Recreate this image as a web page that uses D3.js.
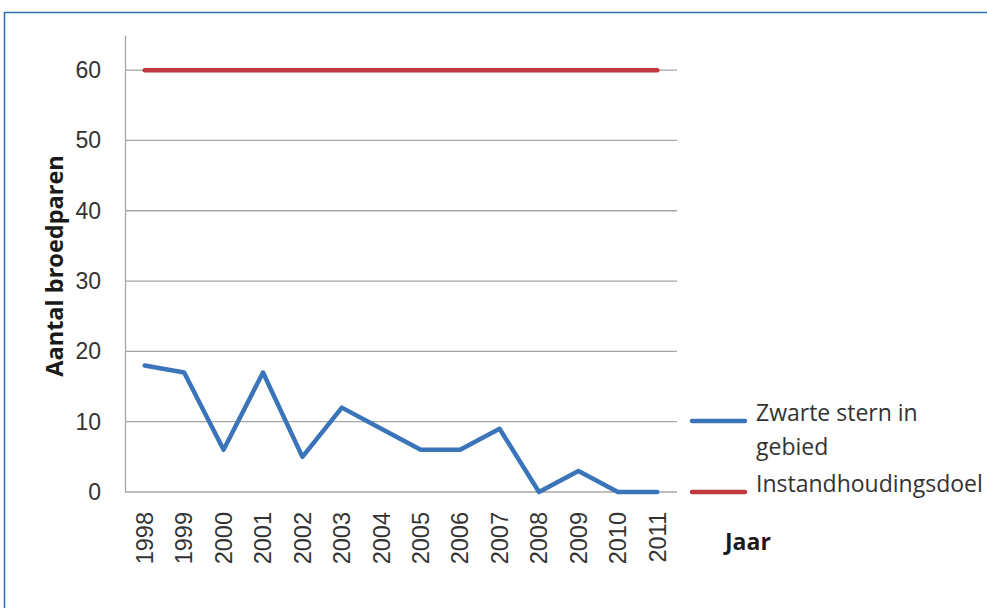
<!DOCTYPE html>
<html>
<head>
<meta charset="utf-8">
<script src="https://cdn.jsdelivr.net/npm/d3@7"></script>
<style>
  body { margin: 0; background: #fff; }
  svg { display: block; font-family: "Open Sans", "Noto Sans", sans-serif; }
</style>
</head>
<body>
<svg id="chart" width="987" height="608"></svg>
<script>
const years = ['1998', '1999', '2000', '2001', '2002', '2003', '2004', '2005', '2006', '2007', '2008', '2009', '2010', '2011'];
const zwarteStern = [18, 17, 6, 17, 5, 12, 9, 6, 6, 9, 0, 3, 0, 0];
const doel = [60, 60, 60, 60, 60, 60, 60, 60, 60, 60, 60, 60, 60, 60];
const yTicks = [0, 10, 20, 30, 40, 50, 60];

const svg = d3.select('#chart');

// frame (only top and left edges visible in the picture)
svg.append('path')
    .attr('d', 'M4.5,608V12.5H987')
    .attr('fill', 'none')
    .attr('stroke', '#2f6fb8')
    .attr('stroke-width', 1.5);

const plotLeft = 125, plotRight = 677, plotTop = 35, plotBottom = 492;

const x = d3.scaleBand().domain(years).range([plotLeft, plotRight]);
const y = d3.scaleLinear().domain([0, 65]).range([plotBottom, plotTop]);
const cx = d => x(d) + x.bandwidth() / 2;

// gridlines
svg.append('g')
  .selectAll('line')
  .data(yTicks)
  .join('line')
    .attr('x1', plotLeft).attr('x2', plotRight)
    .attr('y1', d => y(d)).attr('y2', d => y(d))
    .attr('stroke', '#a6a6a6')
    .attr('stroke-width', 1.3);

// y axis
const yAxis = svg.append('g')
    .attr('transform', `translate(${plotLeft},0)`)
    .call(d3.axisLeft(y).tickValues(yTicks).tickSize(0).tickPadding(24));
yAxis.select('.domain').attr('stroke', '#a6a6a6').attr('stroke-width', 1.3);
yAxis.selectAll('text')
    .attr('font-size', 23)
    .attr('fill', '#333')
    .attr('text-anchor', 'end');

// x axis labels
const xAxis = svg.append('g')
    .attr('transform', `translate(0,${plotBottom})`)
    .call(d3.axisBottom(x).tickSize(0));
xAxis.select('.domain').remove();
xAxis.selectAll('text')
    .attr('font-size', 23.5)
    .attr('fill', '#333')
    .attr('text-anchor', 'end')
    .attr('transform', 'rotate(-90)')
    .attr('x', -20)
    .attr('y', 0)
    .attr('dy', '0.35em');

// y title
svg.append('text')
    .attr('transform', 'translate(63,266) rotate(-90)')
    .attr('text-anchor', 'middle')
    .attr('font-size', 23.5)
    .attr('font-weight', 'bold')
    .attr('fill', '#1a1a1a')
    .text('Aantal broedparen');

const line = d3.line()
    .x((d, i) => cx(years[i]))
    .y(d => y(d));

svg.append('path')
    .datum(doel)
    .attr('d', line)
    .attr('fill', 'none')
    .attr('stroke', '#c0393e')
    .attr('stroke-width', 4.5)
    .attr('stroke-linecap', 'round');

svg.append('path')
    .datum(zwarteStern)
    .attr('d', line)
    .attr('fill', 'none')
    .attr('stroke', '#3a74b9')
    .attr('stroke-width', 4.5)
    .attr('stroke-linejoin', 'round')
    .attr('stroke-linecap', 'round');

// legend
const legend = svg.append('g').attr('font-size', 23).attr('fill', '#333');
const legendItems = [
  { color: '#3a74b9', lines: ['Zwarte stern in', 'gebied'], y: 421 },
  { color: '#c0393e', lines: ['Instandhoudingsdoel'], y: 492 }
];
legendItems.forEach(it => {
  legend.append('line')
      .attr('x1', 692).attr('x2', 745)
      .attr('y1', it.y).attr('y2', it.y)
      .attr('stroke', it.color)
      .attr('stroke-width', 4.5)
      .attr('stroke-linecap', 'round');
  const t = legend.append('text')
      .attr('x', 756).attr('y', it.y)
      .attr('dy', '0.35em');
  it.lines.forEach((s, i) => {
    t.append('tspan').attr('x', 756).attr('dy', i ? 34 : 0).text(s);
  });
});

svg.append('text')
    .attr('x', 725).attr('y', 550)
    .attr('font-size', 23)
    .attr('font-weight', 'bold')
    .attr('fill', '#1a1a1a')
    .text('Jaar');
</script>
</body>
</html>
